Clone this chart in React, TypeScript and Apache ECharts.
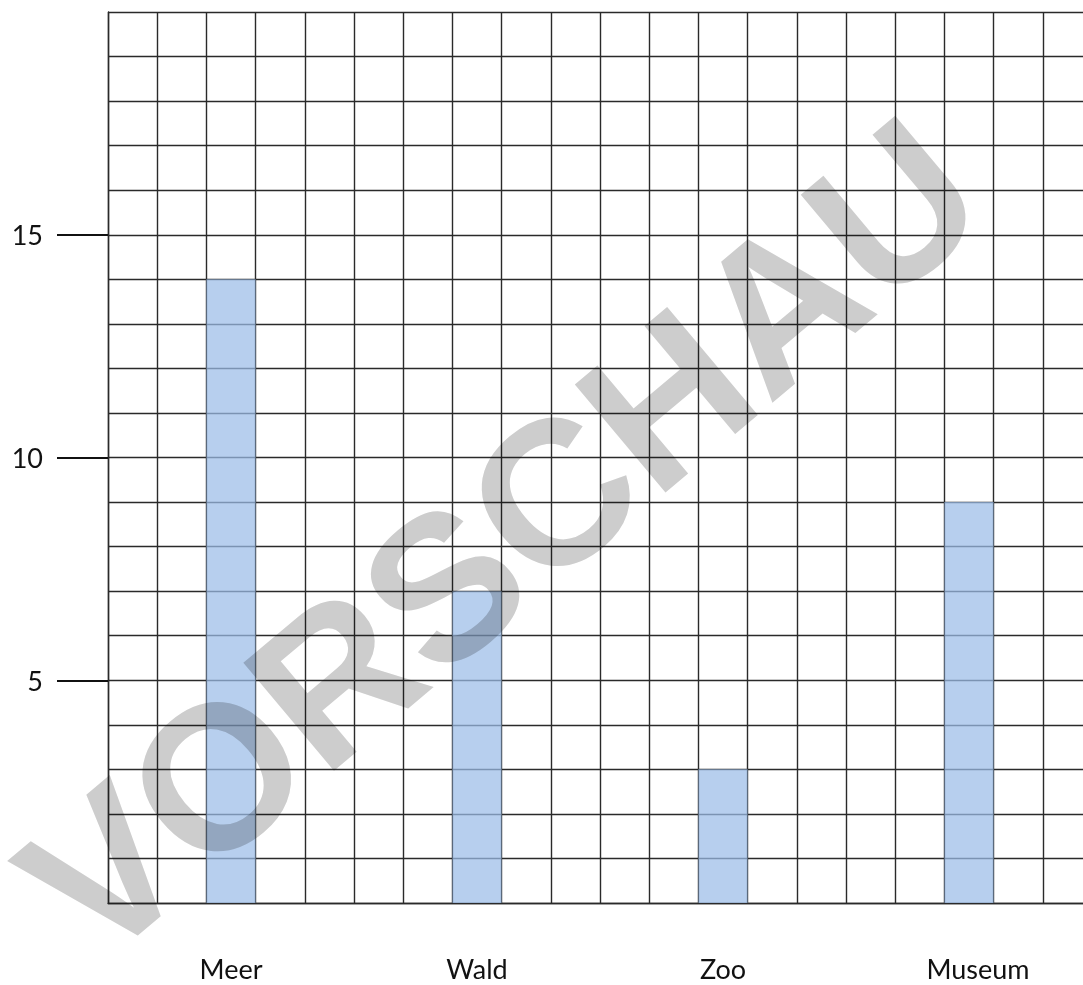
import React, { useEffect, useRef } from 'react';
import * as echarts from 'echarts';

// ---- data ----
const categories = ['Meer', 'Wald', 'Zoo', 'Museum'];
const visits = [14, 7, 3, 9];
const yTickValues = [5, 10, 15];
const watermarkText = 'VORSCHAU';

export default function App() {
  const ref = useRef<HTMLDivElement>(null);

  useEffect(() => {
    const el = ref.current!;
    const chart = echarts.init(el, null, { renderer: 'svg' });

    const gridColor = '#2a2a2a';
    const font = 'Lato, "Open Sans", sans-serif';
    const gridLine = { color: gridColor, width: 1.4 };

    chart.setOption({
      animation: false,
      backgroundColor: '#ffffff',
      grid: { left: 108, top: 12, width: 984, height: 891, containLabel: false, outerBoundsMode: 'none' },
      xAxis: [
        {
          type: 'category',
          data: categories,
          position: 'bottom',
          boundaryGap: true,
          axisLine: { show: true, lineStyle: gridLine },
          axisTick: { show: false },
          splitLine: { show: false },
          axisLabel: {
            interval: 0,
            margin: 52,
            fontSize: 27,
            lineHeight: 27,
            color: '#111',
            fontFamily: font,
            formatter: (v: string) => (v === 'Museum' ? '{m|' + v + '}' : v),
            rich: {
              m: { fontSize: 27, lineHeight: 27, color: '#111', fontFamily: font, padding: [0, 0, 0, 18] },
            },
          },
        },
        {
          // fine grid: 20 columns
          type: 'value',
          position: 'top',
          min: 0,
          max: 20,
          interval: 1,
          axisLine: { show: false },
          axisTick: { show: false },
          axisLabel: { show: false },
          splitLine: { show: true, lineStyle: gridLine },
        },
      ],
      yAxis: [
        {
          type: 'value',
          position: 'left',
          min: 0,
          max: 20,
          interval: 1,
          axisLine: { show: true, lineStyle: gridLine },
          axisTick: { show: false },
          axisLabel: { show: false },
          splitLine: { show: true, lineStyle: gridLine },
        },
        {
          type: 'value',
          position: 'left',
          min: 0,
          max: 20,
          interval: 5,
          axisLine: { show: false },
          axisTick: { show: true, customValues: yTickValues, length: 51, lineStyle: { color: '#111', width: 2 } },
          axisLabel: { customValues: yTickValues, margin: 65, fontSize: 27, color: '#111', fontFamily: font },
          splitLine: { show: false },
        },
      ],
      series: [
        {
          type: 'bar',
          xAxisIndex: 0,
          yAxisIndex: 0,
          data: visits,
          barWidth: '20%',
          itemStyle: { color: 'rgba(155,189,232,0.72)' },
        },
      ],
      graphic: [
        {
          type: 'text',
          x: 500,
          y: 538,
          rotation: (40 * Math.PI) / 180,
          z: 100,
          silent: true,
          style: {
            text: watermarkText,
            fill: '#cdcdcd',
            fontSize: 205,
            fontWeight: 'bold',
            fontFamily: '"Liberation Sans", Arial, sans-serif',
            align: 'center',
            verticalAlign: 'middle',
          },
        },
      ],
    });

    const applyBlend = () => {
      el.querySelectorAll('text').forEach((t) => {
        if (t.textContent === watermarkText) {
          (t as SVGTextElement).style.mixBlendMode = 'multiply';
        }
      });
    };
    applyBlend();
    chart.on('finished', applyBlend);

    return () => {
      chart.dispose();
    };
  }, []);

  return (
    <div
      style={{
        position: 'fixed',
        left: 0,
        top: 0,
        width: 1083,
        height: 985,
        overflow: 'hidden',
        background: '#fff',
      }}
    >
      <div ref={ref} style={{ width: 1100, height: 985 }} />
    </div>
  );
}
